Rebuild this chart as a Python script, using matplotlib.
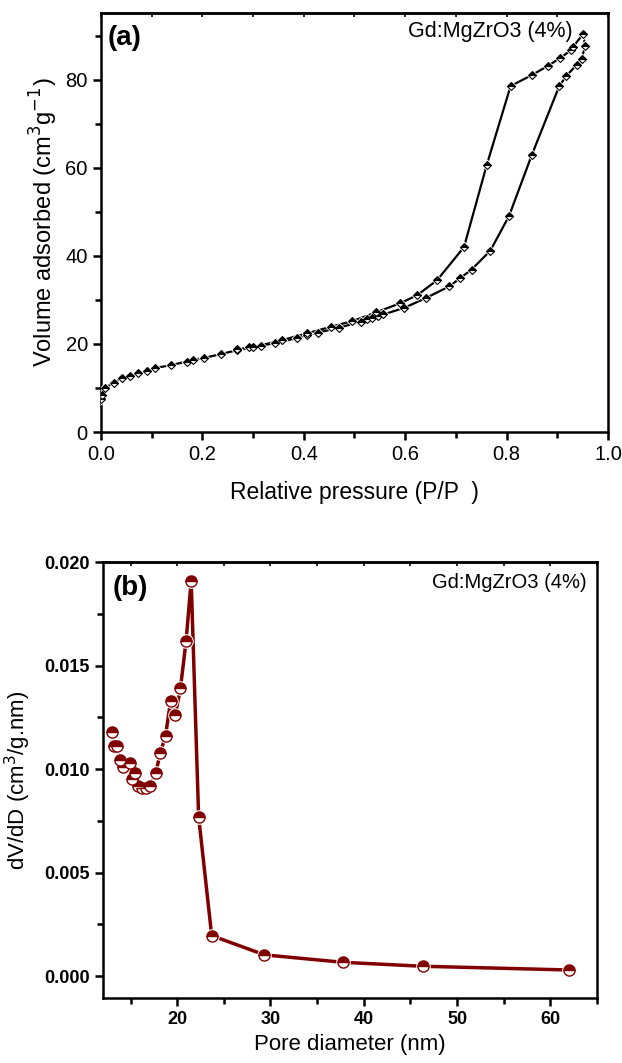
import numpy as np
import matplotlib
matplotlib.use("Agg")
import matplotlib.pyplot as plt
from matplotlib.ticker import MultipleLocator, FormatStrFormatter

plt.rcParams['font.family'] = ['Liberation Sans', 'DejaVu Sans']

# === DATA: (a) N2 isotherm ===
ads_p = [0.0, 0.002, 0.008, 0.025, 0.041, 0.057, 0.073, 0.091, 0.106, 0.138, 0.169, 0.181,
         0.203, 0.236, 0.269, 0.291, 0.315, 0.343, 0.386, 0.406, 0.429, 0.470, 0.512, 0.524,
         0.535, 0.547, 0.557, 0.598, 0.642, 0.687, 0.709, 0.731, 0.768, 0.805, 0.850, 0.904,
         0.918, 0.938, 0.948, 0.955]
ads_v = [7.5, 8.5, 10.0, 11.2, 12.2, 12.8, 13.4, 13.9, 14.5, 15.2, 16.0, 16.4,
         16.8, 17.7, 18.6, 19.2, 19.6, 20.2, 21.3, 22.0, 22.6, 23.7, 25.1, 25.6,
         25.8, 26.3, 26.7, 28.2, 30.5, 33.1, 35.0, 36.9, 41.2, 49.1, 63.0, 78.6,
         80.9, 83.4, 84.7, 87.7]
des_p = [0.951, 0.931, 0.928, 0.906, 0.882, 0.850, 0.808, 0.761, 0.716, 0.663, 0.624,
         0.589, 0.543, 0.496, 0.453, 0.406, 0.358, 0.299, 0.269]
des_v = [90.4, 87.5, 86.8, 85.0, 83.2, 81.1, 78.6, 60.7, 42.0, 34.5, 31.1,
         29.2, 27.2, 25.2, 23.9, 22.4, 20.9, 19.2, 18.8]

# === DATA: (b) pore size distribution ===
pore_d = [13.05, 13.2, 13.6, 13.87, 14.2, 14.9, 15.2, 15.5, 15.8, 16.26, 16.7, 17.1, 17.7,
          18.2, 18.75, 19.3, 19.8, 20.35, 20.96, 21.5, 22.3, 23.7, 29.36, 37.8, 46.3, 62.0]
dvdd = [0.0118, 0.0111, 0.0111, 0.01043, 0.0101, 0.0103, 0.0095, 0.0098, 0.0092, 0.0091,
        0.0091, 0.0092, 0.0098, 0.0108, 0.0116, 0.0133, 0.0126, 0.0139, 0.0162, 0.0191,
        0.0077, 0.00196, 0.00103, 0.00067, 0.00048, 0.0003]

sample = "Gd:MgZrO3 (4%)"
red = "#800000"

fig = plt.figure(figsize=(6.22, 10.63), dpi=100)
ax1 = fig.add_axes([0.1624, 0.5936, 0.815, 0.3942])
ax2 = fig.add_axes([0.1656, 0.0612, 0.7942, 0.4101])


def style_axes(ax, bold, major_step, minor_step):
    for s in ax.spines.values():
        s.set_linewidth(1.8)
    ax.tick_params(which='major', direction='out', length=6, width=1.8,
                   labelsize=14.5 if not bold else 13)
    ax.tick_params(which='minor', direction='out', length=4, width=1.8)
    if bold:
        for lab in ax.get_xticklabels() + ax.get_yticklabels():
            lab.set_fontweight('bold')
    # short inward ticks along the top spine, no labels
    top = ax.secondary_xaxis('top')
    top.xaxis.set_major_locator(MultipleLocator(major_step))
    top.xaxis.set_minor_locator(MultipleLocator(minor_step))
    top.tick_params(which='both', direction='in', length=3, width=1.2, labeltop=False)
    top.spines['top'].set_linewidth(1.8)


# --- (a) ---
p_all = ads_p + des_p
v_all = ads_v + des_v
ax1.plot(p_all, v_all, color='black', lw=1.6, zorder=2)
ax1.plot(p_all, v_all, ls='none', marker='D', ms=6, mfc='white', mec='none', zorder=3)
ax1.plot(p_all, v_all, ls='none', marker='D', ms=4, fillstyle='top', mfc='black',
         markerfacecoloralt='white', mec='black', mew=0.8, zorder=4)
ax1.set_xlim(0, 1.0)
ax1.set_ylim(0, 95.2)
ax1.xaxis.set_major_locator(MultipleLocator(0.2))
ax1.xaxis.set_minor_locator(MultipleLocator(0.1))
ax1.yaxis.set_major_locator(MultipleLocator(20))
ax1.yaxis.set_minor_locator(MultipleLocator(10))
ax1.xaxis.set_major_formatter(FormatStrFormatter('%.1f'))
style_axes(ax1, False, 0.2, 0.1)
ax1.set_xlabel("Relative pressure (P/P  )", fontsize=16.5, labelpad=12)
ax1.set_ylabel("Volume adsorbed (cm$^3$g$^{-1}$)", fontsize=17, labelpad=4)
ax1.text(0.014, 0.94, "(a)", transform=ax1.transAxes, fontsize=20, fontweight='bold',
         ha='left', va='center')
ax1.text(0.93, 0.955, sample, transform=ax1.transAxes, fontsize=15.5, ha='right', va='center')

# --- (b) ---
ax2.plot(pore_d, dvdd, color=red, lw=2.5, zorder=2)
ax2.plot(pore_d, dvdd, ls='none', marker='o', ms=10.5, mfc='white', mec='none', zorder=3)
ax2.plot(pore_d, dvdd, ls='none', marker='o', ms=8, fillstyle='top', mfc=red,
         markerfacecoloralt='white', mec=red, mew=1.0, zorder=4)
ax2.set_xlim(12.05, 65)
ax2.set_ylim(-0.00105, 0.020)
ax2.xaxis.set_major_locator(MultipleLocator(10))
ax2.xaxis.set_minor_locator(MultipleLocator(5))
ax2.yaxis.set_major_locator(MultipleLocator(0.005))
ax2.yaxis.set_minor_locator(MultipleLocator(0.0025))
ax2.yaxis.set_major_formatter(FormatStrFormatter('%.3f'))
style_axes(ax2, True, 10, 5)
ax2.set_xlabel("Pore diameter (nm)", fontsize=16, labelpad=4)
ax2.set_ylabel("dV/dD (cm$^3$/g.nm)", fontsize=16, labelpad=8)
ax2.text(0.02, 0.94, "(b)", transform=ax2.transAxes, fontsize=20, fontweight='bold',
         ha='left', va='center')
ax2.text(0.98, 0.952, sample, transform=ax2.transAxes, fontsize=14.5, ha='right', va='center')

fig.savefig("out.png", dpi=100)
